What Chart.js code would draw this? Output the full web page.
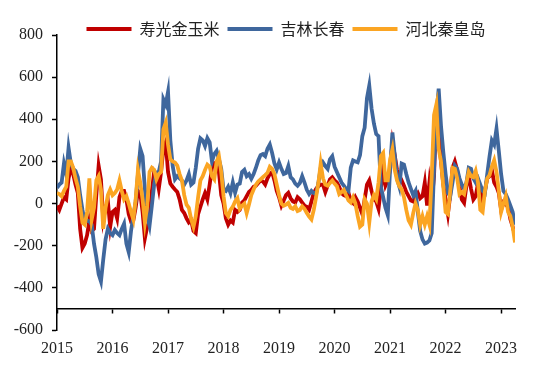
<!DOCTYPE html>
<html>
<head>
<meta charset="utf-8">
<script src="https://cdn.jsdelivr.net/npm/chart.js@4/dist/chart.umd.min.js"></script>
<style>
  html, body { margin: 0; padding: 0; background: #fff; }
  #wrap { width: 550px; height: 379px; }
</style>
</head>
<body>
<div id="wrap"><canvas id="c" width="550" height="379"></canvas></div>
<script>
// Semi-monthly observation dates, 2015-01-01 .. 2023-04-01
const dates = [];
for (let y = 2015; y <= 2023; y++) {
  for (let m = 1; m <= 12; m++) {
    for (const d of [1, 16]) {
      if (y === 2023 && (m > 4 || (m === 4 && d === 16))) continue;
      dates.push(`${y}-${String(m).padStart(2, '0')}-${String(d).padStart(2, '0')}`);
    }
  }
}

const seriesNames = ['寿光金玉米', '吉林长春', '河北秦皇岛'];

const shouguang = [
  -10, -30, 0, 30, 20, 120, 170, 140, 90, 50,
  -120, -210, -190, -150, -80, -130, -120, 40, 180, 115,
  -75, -20, 10, -110, -40, -30, -70, 30, 60, 60,
  20, -50, -85, -80, -20, 60, 50, -40, -165, -110,
  -80, 60, 150, 130, 70, 150, 260, 290, 150, 95,
  80, 67, 55, 20, -30, -45, -70, -90, -80, -130,
  -140, -50, -15, 20, 50, 20, 90, 170, 190, 180,
  150, 40, 0, -70, -100, -80, -90, -30, -40, -30,
  5, 15, 35, 55, 65, 80, 85, 98, 110, 105,
  90, 120, 140, 150, 110, 60, 30, -10, 15, 40,
  51, 25, 10, 5, 30, 20, 5, -10, -15, -29,
  10, 50, 70, 82, 90, 90, 55, 85, 115, 125,
  110, 100, 80, 50, 40, 35, 51, 15, 3, 30,
  10, -20, -50, 20, 90, 110, 60, 20, 10, -25,
  70, 155, 85, 110, 162, 289, 230, 160, 100, 110,
  85, 55, 35, 15, 10, 35, 50, 25, 35, 100,
  -10, 100, 10, 130, 460, 330, 200, 90, 20, -50,
  40, 170, 200, 160, 82, 19, 3, 85, 130, 70,
  19, 35, 95, 55, 10, 60, 120, 130, 160, 100,
  80, 50, -30, 5, -5, -15, -75, -110, -150
];

const jilin = [
  75, 90, 100, 190, 140, 265, 190, 165, 155, 125,
  40, -30, -85, -80, -85, -100, -190, -255, -335, -370,
  -265, -170, -120, -140, -150, -125, -140, -150, -120, -95,
  -190, -230, -130, -60, 10, 140, 260, 225, 67, -60,
  -105, -10, 90, 148, 150, 200, 495, 470, 530, 300,
  180, 115, 130, 120, 110, 90, 110, 140, 90, 100,
  170, 260, 310, 300, 273, 310, 290, 200, 235, 250,
  210, 165, 65, 60, 80, 50, 100, 51, 90, 95,
  150, 160, 130, 140, 118, 140, 170, 205, 230, 235,
  225, 260, 280, 240, 190, 162, 195, 165, 140, 145,
  178, 125, 115, 95, 85, 98, 130, 100, 65, 45,
  60, 50, 45, 98, 170, 195, 178, 165, 210, 225,
  175, 150, 125, 100, 85, 70, 60, 170, 205, 200,
  196, 230, 320, 360, 500, 560, 450, 380, 330, 320,
  80, 30, -20, -55, 162, 337, 230, 120, 80, 190,
  185, 140, 100, 70, 40, 60, -40, -130, -170, -190,
  -185, -175, -140, 162, 420, 545, 370, 245, 140, 50,
  35, 100, 180, 165, 120, 90, 70, 100, 170, 165,
  120, 100, 120, 90, 60, 50, 140, 225, 300, 280,
  355, 250, 140, 60, 45, 20, -10, -40, -100
];

const qinhuangdao = [
  50, 45, 35, 60, 80, 200, 200, 170, 120, 80,
  -13, -90, -100, -40, 120, -75, -20, 110, 130, 67,
  -120, -20, 40, 67, 40, 50, 67, 110, 60, 20,
  35, 0, -40, -75, 20, 160, 100, 20, -90, -10,
  150, 170, 160, 115, 140, 150, 352, 384, 280, 210,
  200, 195, 180, 140, 110, 40, -5, -20, -75, -110,
  -60, 30, 110, 130, 160, 185, 175, 130, 115, 200,
  225, 150, 35, -45, -60, -30, -15, 10, 25, -25,
  -10, 0, -45, -5, 40, 67, 90, 105, 115, 125,
  135, 146, 175, 165, 140, 90, 40, 0, -10, -5,
  3, -20, -25, -13, -35, -30, -13, -25, -45, -62,
  -75, -30, 30, 98, 190, 120, 90, 85, 98, 110,
  95, 82, 45, 55, 65, 40, 15, 5, 30, 0,
  -60, -110, -100, 20, 0, -90, 10, 40, 20, 100,
  225, 240, 110, 110, 209, 257, 160, 110, 82, 67,
  30, -30, -80, -100, -45, 0, -30, -100, -60, -100,
  -60, -100, 130, 420, 470, 260, 200, 80, -40, -50,
  60, 170, 165, 120, 45, 55, 45, 100, 150, 130,
  125, 155, 100, -30, -40, 60, 120, 135, 175, 205,
  150, 60, -40, 0, 35, -40, -60, -110, -185
];

const yearTicks = [2015, 2016, 2017, 2018, 2019, 2020, 2021, 2022, 2023];
const yTicks = [-600, -400, -200, 0, 200, 400, 600, 800];

function toYear(s) {
  const [y, m, d] = s.split('-').map(Number);
  return y + (m - 1) / 12 + (d >= 16 ? 1 / 24 : 0);
}
function pts(vals) { return vals.map((v, i) => ({ x: toYear(dates[i]), y: v })); }

const colors = ['#C00000', '#3F679D', '#FBA523'];
const drawOrder = [2, 1, 0];

const tickFont = { family: 'Liberation Serif', size: 16 };

// Compact legend band (no clipping of its text)
const legendBand = {
  id: 'legendBand',
  beforeLayout(chart) {
    const lg = chart.legend;
    if (lg && !lg._patched) {
      const fit = lg.fit.bind(lg);
      lg.fit = function () { fit(); this.height = 22; };
      lg.draw = function () { if (this.options.display) this._draw(); };
      lg._patched = true;
    }
  }
};

new Chart(document.getElementById('c'), {
  type: 'line',
  data: {
    datasets: [shouguang, jilin, qinhuangdao].map((vals, i) => ({
      label: seriesNames[i],
      data: pts(vals),
      borderColor: colors[i],
      backgroundColor: colors[i],
      borderWidth: 3.8,
      pointRadius: 0,
      tension: 0,
      order: drawOrder[i],
      fill: false
    }))
  },
  plugins: [legendBand],
  options: {
    responsive: false,
    animation: false,
    devicePixelRatio: 1,
    layout: { padding: { left: 12, right: 35, top: 13, bottom: 49 } },
    plugins: {
      tooltip: { enabled: false },
      legend: {
        position: 'top',
        align: 'center',
        fullSize: false,
        labels: {
          boxWidth: 45,
          boxHeight: 4,
          padding: 8,
          color: '#222',
          font: { family: 'Noto Sans CJK SC', size: 16 },
          sort: (a, b) => a.datasetIndex - b.datasetIndex,
          generateLabels: (chart) => {
            const items = Chart.defaults.plugins.legend.labels.generateLabels(chart);
            items.forEach(it => { it.lineWidth = 0; it.fillStyle = colors[it.datasetIndex]; });
            return items;
          }
        }
      }
    },
    scales: {
      x: {
        type: 'linear',
        position: { y: -500 },
        min: 2015,
        max: 2023.25,
        afterBuildTicks: (s) => { s.ticks = yearTicks.map(v => ({ value: v })); },
        ticks: {
          callback: (v) => String(v),
          font: tickFont,
          color: '#222',
          padding: 26,
          maxRotation: 0,
          autoSkip: false
        },
        grid: { drawOnChartArea: false, drawTicks: true, tickLength: 4, color: '#000', tickWidth: 1.5 },
        border: { color: '#000', width: 1.5 }
      },
      y: {
        min: -600,
        max: 800,
        afterBuildTicks: (s) => { s.ticks = yTicks.map(v => ({ value: v })); },
        afterFit: (s) => { s.width = 45; },
        ticks: { font: tickFont, color: '#222', padding: 9 },
        grid: { drawOnChartArea: false, drawTicks: true, tickLength: 5, color: '#000', tickWidth: 1.5 },
        border: { color: '#000', width: 1.5 }
      }
    }
  }
});
</script>
</body>
</html>
